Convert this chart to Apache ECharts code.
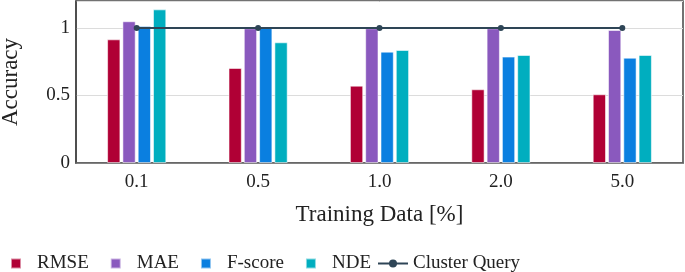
<!DOCTYPE html>
<html>
<head>
<meta charset="utf-8">
<script src="https://cdn.jsdelivr.net/npm/echarts@6/dist/echarts.min.js"></script>
<style>html,body{margin:0;padding:0;background:#fff}#c{width:685px;height:272px}</style>
</head>
<body>
<div id="c"></div>
<script>
const categories = ['0.1', '0.5', '1.0', '2.0', '5.0'];
const rmse = [0.916, 0.704, 0.573, 0.546, 0.509];
const mae = [1.05, 0.998, 0.998, 0.998, 0.985];
const fscore = [1.015, 1.0, 0.825, 0.788, 0.78];
const nde = [1.138, 0.894, 0.837, 0.8, 0.8];
const clusterQuery = [1, 1, 1, 1, 1];
const yTicks = [0, 0.5, 1];

const font = 'Liberation Serif';
const barStyle = (c) => ({ color: c, borderColor: 'rgba(255,255,255,0.55)', borderWidth: 1 });
const chart = echarts.init(document.getElementById('c'), null, { renderer: 'canvas' });
chart.setOption({
  animation: false,
  textStyle: { fontFamily: font, color: '#222' },
  grid: { left: 76, right: 2, top: 1, bottom: 109, show: true, borderColor: '#444', borderWidth: 1.5, backgroundColor: 'transparent',
    containLabel: false, outerBoundsMode: 'none' },
  xAxis: {
    type: 'category', data: categories,
    axisLine: { show: true, lineStyle: { color: '#666', width: 1.5 } },
    axisTick: { show: false },
    axisLabel: { fontFamily: font, fontSize: 19, color: '#222', margin: 10 },
    name: 'Training Data [%]', nameLocation: 'middle', nameGap: 40,
    nameTextStyle: { fontFamily: font, fontSize: 23, color: '#222' }
  },
  yAxis: {
    type: 'value', min: 0, max: 1.2, interval: 0.5,
    axisLine: { show: true, lineStyle: { color: '#444', width: 1.5 } },
    axisTick: { show: false },
    splitLine: { lineStyle: { color: '#dcdcdc', width: 1 } },
    axisLabel: { fontFamily: font, fontSize: 19, color: '#222', margin: 6, showMaxLabel: false,
      formatter: v => yTicks.includes(v) ? String(v) : '' },
    name: 'Accuracy', nameLocation: 'middle', nameGap: 54,
    nameTextStyle: { fontFamily: font, fontSize: 23, color: '#222' }
  },
  legend: [
    { data: ['RMSE', 'MAE', 'F-score', 'NDE'], left: 5, top: 249, icon: 'rect', itemWidth: 10, itemHeight: 10, itemGap: 21,
      textStyle: { fontFamily: font, fontSize: 19, color: '#222', padding: [0, 0, 0, 11] } },
    { data: ['Cluster Query'], left: 372, top: 249, itemWidth: 30, itemHeight: 10, itemGap: 10,
      textStyle: { fontFamily: font, fontSize: 19, color: '#222' } }
  ],
  series: [
    { name: 'RMSE', type: 'bar', data: rmse, barWidth: 13.3, barGap: '15%', itemStyle: barStyle('#b00035') },
    { name: 'MAE', type: 'bar', data: mae, barWidth: 13.3, barGap: '15%', itemStyle: barStyle('#8a59be') },
    { name: 'F-score', type: 'bar', data: fscore, barWidth: 13.3, barGap: '15%', itemStyle: barStyle('#0a7fe0') },
    { name: 'NDE', type: 'bar', data: nde, barWidth: 13.3, barGap: '15%', itemStyle: barStyle('#00aebf') },
    { name: 'Cluster Query', type: 'line', data: clusterQuery, symbol: 'circle', symbolSize: 6, z: 5,
      lineStyle: { color: '#2e4556', width: 2 }, itemStyle: { color: '#2e4556' } }
  ]
});
</script>
</body>
</html>
